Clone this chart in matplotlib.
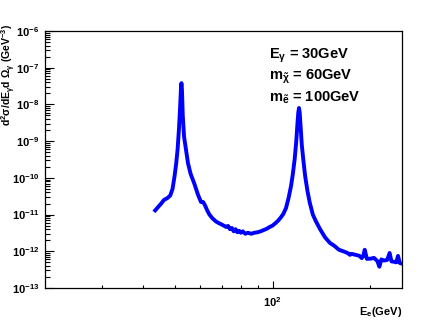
import matplotlib
matplotlib.use('Agg')
import matplotlib.pyplot as plt
import matplotlib.ticker as ticker
import numpy as np

plt.rcParams['font.family'] = ['Liberation Sans', 'DejaVu Sans']
plt.rcParams['font.weight'] = 'bold'
plt.rcParams['mathtext.fontset'] = 'custom'
plt.rcParams['mathtext.rm'] = 'Liberation Sans:bold'
plt.rcParams['mathtext.it'] = 'Liberation Sans:bold'
plt.rcParams['mathtext.bf'] = 'Liberation Sans:bold'
plt.rcParams['mathtext.default'] = 'rm'

# electron energy (GeV) and cross section d2sigma/dE dOmega (GeV^-3)
energy = [43.6, 44.5, 45.5, 46.4, 47.5, 48.5, 49.3, 50.0, 50.6, 51.1, 51.6, 52.0, 52.3, 52.5,
          52.7, 53.0, 53.5, 54.2, 55.0, 56.0, 57.5, 59.0, 60.3, 61.2, 62.0, 63.0, 64.0, 65.3,
          67.0, 68.5, 70.0, 72.0, 73.0, 74.0, 75.0, 76.0, 77.0, 78.0, 79.0, 80.0, 81.0, 82.5,
          84.0, 86.0, 88.0, 90.0, 92.0, 94.0, 96.0, 98.0, 100.0, 102.0, 104.0, 106.0, 108.0,
          110.0, 112.0, 114.0, 115.5, 117.0, 118.3, 119.3, 120.0, 120.6, 121.2, 122.0, 123.0,
          124.5, 126.0, 128.0, 130.0, 133.0, 136.0, 140.0, 145.0, 150.0, 155.0, 160.0, 165.0,
          170.0, 173.0, 175.0, 180.0, 185.0, 188.0, 190.0, 192.0, 195.0, 200.0, 205.0, 210.0,
          213.0, 216.0, 220.0, 225.0, 229.0, 232.0, 236.0, 240.0, 243.0, 246.0, 250.0]
xsec = [1.3e-11, 1.6e-11, 2.0e-11, 2.5e-11, 2.8e-11, 3.3e-11, 5.0e-11, 1.1e-10, 2.5e-10, 6e-10,
        2.2e-9, 8e-9, 2.5e-8, 3.8e-8,
        2.5e-8, 5e-9, 1.3e-9, 6e-10, 2.5e-10, 1.3e-10, 7e-11, 3.5e-11, 2.2e-11, 2.2e-11,
        1.8e-11, 1.3e-11, 1.0e-11, 8e-12,
        6.5e-12, 5.8e-12, 5.3e-12, 4.6e-12, 4.9e-12, 4.0e-12, 4.3e-12, 3.5e-12, 4.0e-12,
        3.3e-12, 3.6e-12, 3.2e-12, 3.5e-12, 3.0e-12,
        3.2e-12, 3.0e-12, 3.2e-12, 3.3e-12, 3.5e-12, 3.8e-12, 4.1e-12, 4.6e-12, 5.0e-12,
        5.8e-12, 6.8e-12, 8.3e-12, 1.05e-11,
        1.5e-11, 2.8e-11, 6e-11, 1.3e-10, 3.3e-10, 1.0e-9, 3e-9, 6e-9, 8e-9, 6e-9, 2.5e-9,
        8e-10,
        2.8e-10, 1.1e-10, 4.5e-11, 2.2e-11, 1.0e-11, 6.5e-12, 4.0e-12, 2.4e-12, 1.7e-12,
        1.4e-12, 1.1e-12, 1.0e-12,
        9e-13, 8.0e-13, 8.5e-13, 8e-13, 7.5e-13, 6.5e-13, 7.5e-13, 1.1e-12, 6.2e-13, 6.3e-13,
        6.6e-13, 5.4e-13,
        3.8e-13, 6.0e-13, 5.6e-13, 5.8e-13, 9e-13, 5.3e-13, 5.2e-13, 5.0e-13, 7.5e-13,
        4.8e-13, 4.6e-13]

y_decades = [-13, -12, -11, -10, -9, -8, -7, -6]

fig = plt.figure(figsize=(4.47, 3.21), dpi=100)
ax = fig.add_axes([0.1007, 0.1028, 0.7987, 0.8006])

ax.plot(energy, xsec, color='#0000ff', linewidth=2.8, solid_joinstyle='round')

ax.set_xscale('log')
ax.set_yscale('log')
ax.set_xlim(20, 250)
ax.set_ylim(1e-13, 1e-6)

ax.xaxis.set_major_locator(ticker.FixedLocator([100]))
ax.xaxis.set_minor_locator(ticker.FixedLocator([30, 40, 50, 60, 70, 80, 90, 200]))
ax.xaxis.set_major_formatter(ticker.FixedFormatter([r'$10^{2}$']))
ax.xaxis.set_minor_formatter(ticker.NullFormatter())

yminor = [m * 10.0 ** d for d in y_decades[:-1] for m in range(2, 10)]
ax.yaxis.set_major_locator(ticker.FixedLocator([10.0 ** d for d in y_decades]))
ax.yaxis.set_minor_locator(ticker.FixedLocator(yminor))
ax.yaxis.set_major_formatter(ticker.FixedFormatter([r'$10^{%d}$' % d for d in y_decades]))
ax.yaxis.set_minor_formatter(ticker.NullFormatter())

ax.tick_params(axis='y', which='major', direction='in', length=6.5, width=0.8, labelsize=8, pad=4)
ax.tick_params(axis='y', which='minor', direction='in', length=3.3, width=0.8)
ax.tick_params(axis='x', which='major', direction='in', length=5, width=0.8, labelsize=8, pad=5)
ax.tick_params(axis='x', which='minor', direction='in', length=2.5, width=0.8)
ax.tick_params(top=False, right=False, which='both')
for s in ax.spines.values():
    s.set_linewidth(0.9)

ax.set_ylabel(r'd$^{2}\sigma$/dE$_{\gamma}$d $\Omega_{\gamma}$ (GeV$^{-3}$)', fontsize=7.6, fontweight='bold')
ax.yaxis.set_label_coords(-0.1, 1.03)
ax.yaxis.label.set_ha('right')
ax.yaxis.label.set_va('center')

ax.set_xlabel(r'E$_{e}$(GeV)', fontsize=8, fontweight='bold')
ax.xaxis.set_label_coords(1.0, -0.065)
ax.xaxis.label.set_ha('right')

ax.text(0.627, 0.893, r'E$_{\gamma}$ = 30GeV', transform=ax.transAxes, fontsize=10.5, fontweight='bold')
ax.text(0.627, 0.809, r'm$_{\tilde{\chi}}$ = 60GeV', transform=ax.transAxes, fontsize=10.5, fontweight='bold')
ax.text(0.627, 0.727, r'm$_{\tilde{e}}$ = 100GeV', transform=ax.transAxes, fontsize=10.5, fontweight='bold')

fig.savefig('out.png', dpi=100)
